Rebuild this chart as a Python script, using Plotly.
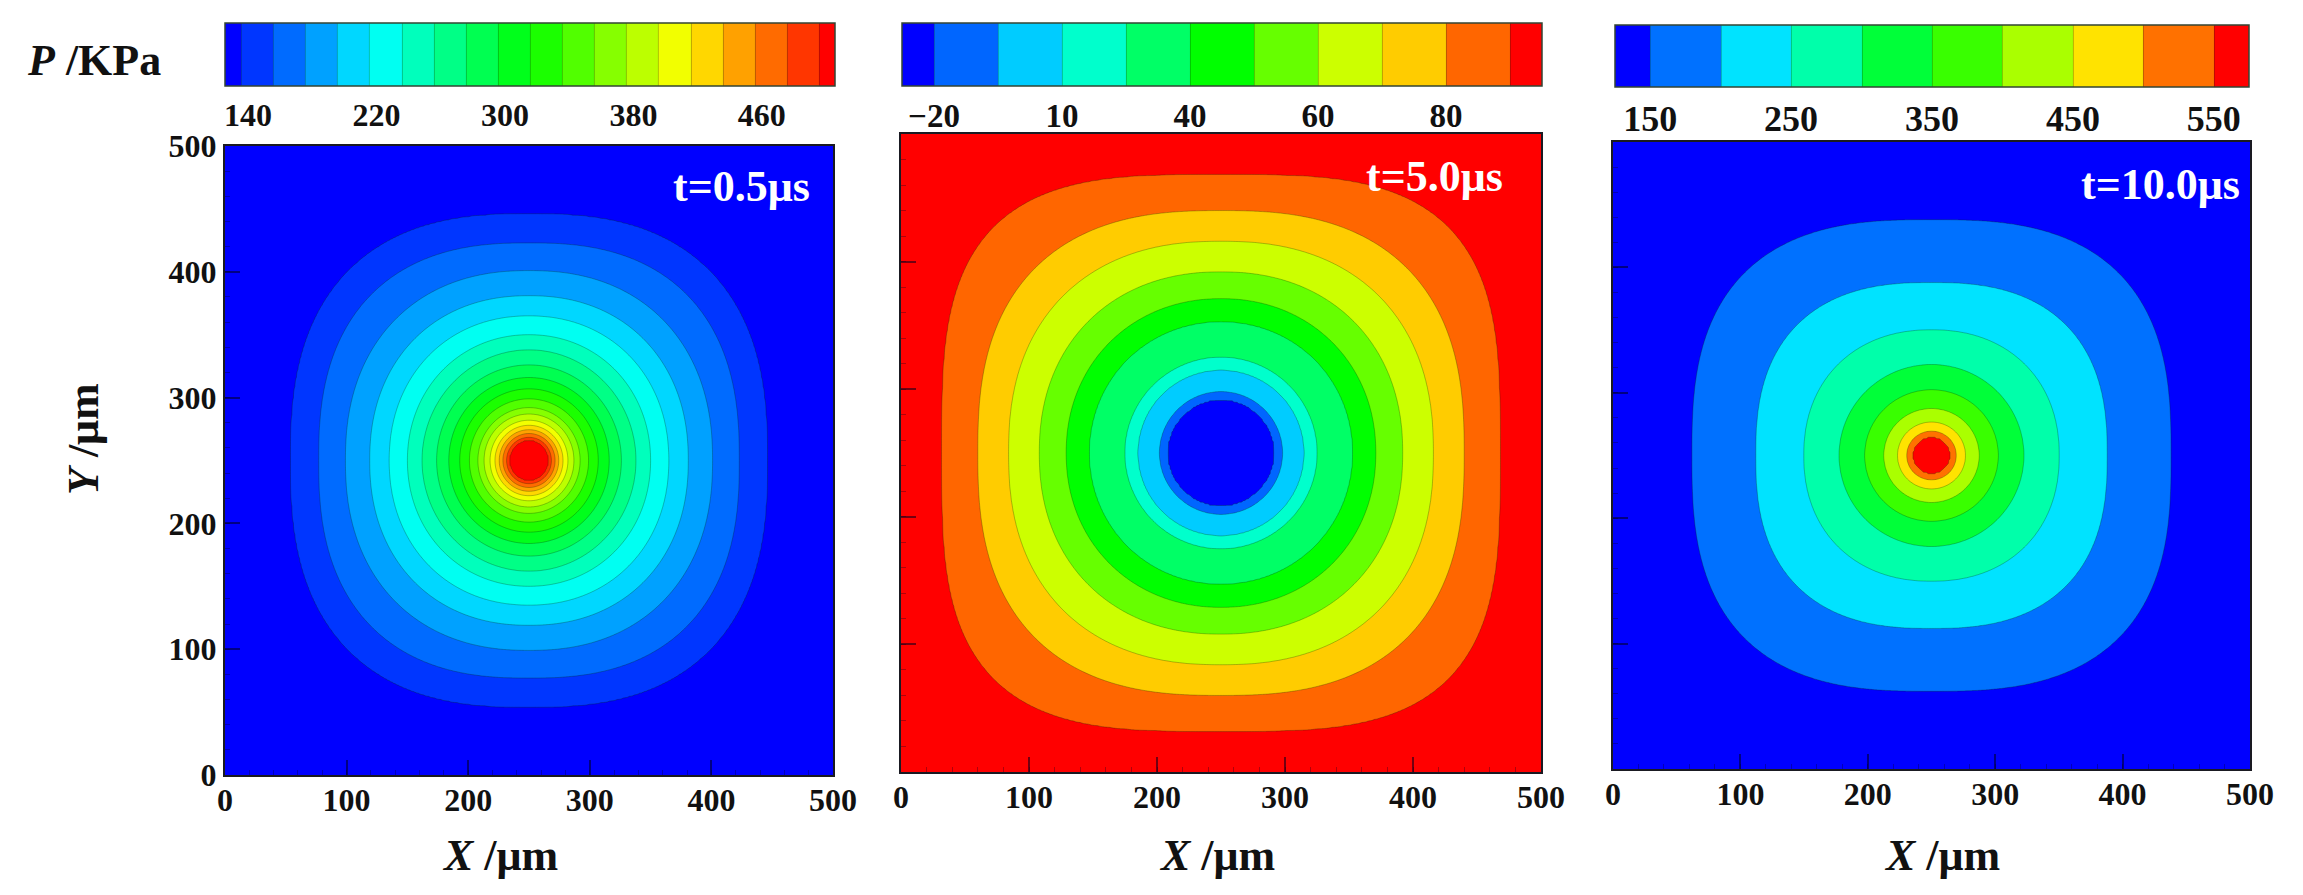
import numpy as np
import plotly.graph_objects as go

W, H = 2303, 895

# Contour levels, with each contour's half-width read along the axis through the centre
# and its bulge towards the corners (diagonal radius / axis radius), all read from the picture.
P1_LEVELS = [140, 160, 180, 200, 220, 240, 260, 280, 300, 320, 340, 360, 380, 400, 420, 440, 460, 480, 500]
P1_RADII = [196, 173, 151, 131, 115, 100, 88, 76, 66, 57, 49, 42, 37, 32, 28, 24.5, 21.5, 18.5, 15.5]
P1_BULGE = [1.08, 1.07, 1.04, 1.03, 1.02, 1.01, 1, 1, 1, 1, 1, 1, 1, 1, 1, 1, 1, 1, 1]

P2_LEVELS = [-20, -7.5, 5, 17.5, 30, 42.5, 55, 67.5, 80, 92.5]
P2_RADII = [41, 48, 65, 75, 103, 121, 142, 166, 190, 218]
P2_BULGE = [1, 1, 1, 1, 1.005, 1.015, 1.03, 1.05, 1.08, 1.15]

P3_LEVELS = [150, 200, 250, 300, 350, 400, 450, 500, 550]
P3_RADII = [188, 138, 100.3, 72.6, 52.5, 37.5, 26.7, 19.5, 14]
P3_BULGE = [1.1, 1.075, 1.03, 1, 1, 1, 1, 1, 1]

P1_TICKVALS = [144.4, 224.4, 304.4, 384.4, 464.4]
P1_TICKTEXT = ["140", "220", "300", "380", "460"]
P2_TICKVALS = [-20, 5, 30, 55, 80]
P2_TICKTEXT = ["\u221220", "10", "40", "60", "80"]
P3_TICKVALS = [150, 250, 350, 450, 550]
P3_TICKTEXT = ["150", "250", "350", "450", "550"]

AXIS_TICKS = [0, 100, 200, 300, 400, 500]
TIMES = ["t=0.5\u03bcs", "t=5.0\u03bcs", "t=10.0\u03bcs"]

RAINBOW = [[0, "#0000ff"], [0.25, "#00ffff"], [0.5, "#00ff00"], [0.75, "#ffff00"], [1, "#ff0000"]]
FONT = "Liberation Serif"
INK = "#1a1a22"

# Panel rectangles in page pixels: left, right, top, bottom
PANELS = [(225, 833, 146, 775), (901, 1541, 134, 772), (1613, 2250, 142, 769)]
BARS = [(225, 835, 23, 86), (902, 1542, 23, 86), (1615, 2249, 25, 87)]
BAR_FONT = [32, 33, 36]
TIME_POS = [(741, 187), (1434, 176), (2160, 184)]

GRID = np.linspace(0, 500, 401)


def rasterise(levels, radii, bulge):
    x, y = np.meshgrid(GRID, GRID)
    dx, dy = np.abs(x - 250), np.abs(y - 250)
    order = np.argsort(radii)[::-1]
    lv = np.asarray(levels, float)[order]
    a = np.asarray(radii, float)[order]
    b = np.asarray(bulge, float)[order]
    p = 1.0 / (0.5 - np.log2(b))
    D = np.stack([(dx ** pi + dy ** pi) ** (1 / pi) / ai - 1 for pi, ai in zip(p, a)])
    k = (D < 0).sum(axis=0)
    step = lv[1] - lv[0]
    z = np.empty_like(dx)
    z[k == 0] = (lv[0] - step * 0.45 * np.clip(D[0] * 5, 0, 1))[k == 0]
    z[k == len(lv)] = lv[-1] + step * 0.45
    mid = (k > 0) & (k < len(lv))
    rows, cols = np.nonzero(mid)
    kk = k[mid]
    d0, d1 = D[kk - 1, rows, cols], D[kk, rows, cols]
    z[mid] = lv[kk - 1] + (-d0 / (d1 - d0)) * (lv[kk] - lv[kk - 1])
    return z


fig = go.Figure()
series = [
    (P1_LEVELS, P1_RADII, P1_BULGE, P1_TICKVALS, P1_TICKTEXT),
    (P2_LEVELS, P2_RADII, P2_BULGE, P2_TICKVALS, P2_TICKTEXT),
    (P3_LEVELS, P3_RADII, P3_BULGE, P3_TICKVALS, P3_TICKTEXT),
]
for i, (levels, radii, bulge, tv, tt) in enumerate(series):
    size = levels[1] - levels[0]
    bl, br, bt, bb = BARS[i]
    axis_suffix = "" if i == 0 else str(i + 1)
    fig.add_trace(go.Contour(
        x=GRID, y=GRID, z=rasterise(levels, radii, bulge),
        xaxis="x" + axis_suffix, yaxis="y" + axis_suffix,
        colorscale=RAINBOW, zmin=levels[0] - size / 2, zmax=levels[-1] + size / 2,
        autocontour=False,
        contours=dict(start=levels[0], end=levels[-1], size=size, coloring="fill", showlines=True),
        line=dict(color="rgba(0,40,0,0.35)", width=0.8, smoothing=1),
        hoverinfo="skip",
        colorbar=dict(
            orientation="h", lenmode="pixels", len=br - bl, thicknessmode="pixels", thickness=bb - bt,
            x=bl / W, xanchor="left", y=1 - bt / H, yanchor="top", xpad=0, ypad=0,
            tickmode="array", tickvals=tv, ticktext=tt, ticks="", ticklabelposition="outside",
            tickfont=dict(family=FONT, size=BAR_FONT[i], color="#111111", weight="bold"),
            outlinecolor="#334433", outlinewidth=1.5, borderwidth=0,
        ),
    ))
    l, r, t, b = PANELS[i]
    common = dict(range=[0, 500], tickmode="array", tickvals=AXIS_TICKS, ticks="inside", ticklen=15,
                  tickcolor="rgba(0,0,30,0.55)", tickwidth=1.5, showline=True, linecolor=INK, linewidth=2,
                  mirror=True, showgrid=False, zeroline=False,
                  minor=dict(ticks="inside", ticklen=5, dtick=20, tickcolor="rgba(0,0,30,0.3)", tickwidth=1),
                  tickfont=dict(family=FONT, size=32, color="#111111", weight="bold"))
    fig.update_layout({
        "xaxis" + axis_suffix: dict(domain=[l / W, r / W], anchor="y" + axis_suffix,
                                    ticklabelstandoff=-4, **common),
        "yaxis" + axis_suffix: dict(domain=[1 - b / H, 1 - t / H], anchor="x" + axis_suffix,
                                    ticklabelstandoff=0, showticklabels=(i == 0), **common),
    })


def label(text, px, py, size=44, color="#111111", angle=0):
    fig.add_annotation(text=text, x=px / W, y=1 - py / H, xref="paper", yref="paper", showarrow=False,
                       xanchor="center", yanchor="middle", textangle=angle,
                       font=dict(family=FONT, size=size, color=color))


label("<b><i>P</i> /KPa</b>", 94, 60)
label("<b><i>Y</i> /\u03bcm</b>", 83, 439, angle=-90)
for text_x in [500, 1217, 1942]:
    label("<b><i>X</i> /\u03bcm</b>", text_x, 855)
for t, (px, py) in zip(TIMES, TIME_POS):
    label("<b>%s</b>" % t, px, py, color="white")

fig.update_layout(width=W, height=H, margin=dict(l=0, r=0, t=0, b=0, autoexpand=False), paper_bgcolor="white",
                  plot_bgcolor="white", showlegend=False)
fig.write_html("out.html", config={"displayModeBar": False}, post_script="document.body.style.margin='0';")
